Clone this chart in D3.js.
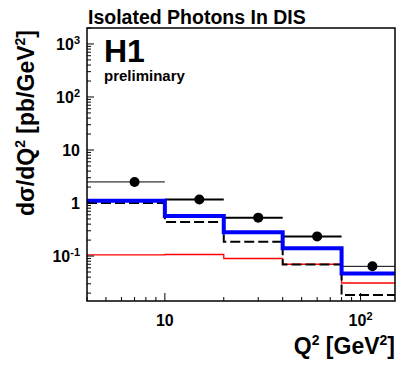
<!DOCTYPE html>
<html>
<head>
<meta charset="utf-8">
<title>Isolated Photons In DIS</title>
<script src="https://d3js.org/d3.v7.min.js"></script>
<style>
  body { margin: 0; background: white; }
  text { font-family: "Liberation Sans", Arial, sans-serif; font-weight: bold; }
</style>
</head>
<body>
<svg id="chart" width="406" height="373"></svg>
<script>
// bin edges in Q^2 [GeV^2]
var binEdges = [4, 10, 20, 40, 80, 150];

// data points (H1 preliminary)
var dataQ2 = [7, 15, 30, 60, 115];
var dataXsec = [2.5, 1.17, 0.53, 0.235, 0.064];

// model predictions per bin
var blueHist = [1.1, 0.57, 0.28, 0.14, 0.047];
var dashHist = [1.0, 0.44, 0.186, 0.069, 0.0184];
var redHist = [0.105, 0.107, 0.09, 0.07, 0.031];

var yTicks = [0.1, 1, 10, 100, 1000];
var yTickLabels = [["10", "-1"], ["1", ""], ["10", ""], ["10", "2"], ["10", "3"]];
var xTicks = [10, 100];
var xTickLabels = [["10", ""], ["10", "2"]];

var svg = d3.select("#chart");
var fLeft = 87, fRight = 395, fTop = 28, fBottom = 301;

var x = d3.scaleLog().domain([4, 150]).range([fLeft, fRight]);
var y = d3.scaleLog().domain([0.0142, 2000]).range([fBottom, fTop]);

// clip to the frame
svg.append("clipPath").attr("id", "frame")
  .append("rect").attr("x", fLeft).attr("y", fTop)
  .attr("width", fRight - fLeft).attr("height", fBottom - fTop);

var plot = svg.append("g").attr("clip-path", "url(#frame)");

// step histogram path
function stepPath(vals) {
  var p = d3.path();
  vals.forEach(function(v, i) {
    var x0 = x(binEdges[i]), x1 = x(binEdges[i + 1]);
    if (i == 0) p.moveTo(x0, y(v)); else p.lineTo(x0, y(v));
    p.lineTo(x1, y(v));
  });
  return p.toString();
}

plot.append("path").attr("d", stepPath(redHist))
  .attr("fill", "none").attr("stroke", "#ff0000").attr("stroke-width", 1.3);

plot.append("path").attr("d", stepPath(dashHist))
  .attr("fill", "none").attr("stroke", "black").attr("stroke-width", 2)
  .attr("stroke-dasharray", "10,4");

// data error bars (horizontal = bin width)
plot.selectAll("line.xerr").data(dataQ2).enter().append("line")
  .attr("class", "xerr")
  .attr("x1", function(d, i) { return x(binEdges[i]); })
  .attr("x2", function(d, i) { return x(binEdges[i + 1]); })
  .attr("y1", function(d, i) { return y(dataXsec[i]); })
  .attr("y2", function(d, i) { return y(dataXsec[i]); })
  .attr("stroke", "black")
  .attr("stroke-width", function(d, i) { return (i == 0 || i == dataQ2.length - 1) ? 1 : 2; });

plot.append("path").attr("d", stepPath(blueHist))
  .attr("fill", "none").attr("stroke", "#0000ff").attr("stroke-width", 4);

plot.selectAll("circle").data(dataQ2).enter().append("circle")
  .attr("cx", function(d) { return x(d); })
  .attr("cy", function(d, i) { return y(dataXsec[i]); })
  .attr("r", 5).attr("fill", "black");

function isDecade(d) {
  return Math.abs(Math.log10(d) - Math.round(Math.log10(d))) < 1e-6;
}

// y axis ticks (inside frame)
var yMinor = [];
for (var e = -2; e <= 3; e++) {
  for (var m = 1; m <= 9; m++) {
    var v = m * Math.pow(10, e);
    if (v >= 0.0142 && v <= 2000) yMinor.push(v);
  }
}
svg.selectAll("line.ytick").data(yMinor).enter().append("line")
  .attr("x1", fLeft).attr("x2", function(d) { return fLeft + (isDecade(d) ? 7 : 4); })
  .attr("y1", function(d) { return y(d); }).attr("y2", function(d) { return y(d); })
  .attr("stroke", "black").attr("stroke-width", 1);

var xMinor = [];
for (var e = 0; e <= 2; e++) {
  for (var m = 1; m <= 9; m++) {
    var v = m * Math.pow(10, e);
    if (v >= 4 && v <= 150) xMinor.push(v);
  }
}
svg.selectAll("line.xtick").data(xMinor).enter().append("line")
  .attr("y1", fBottom).attr("y2", function(d) { return fBottom - (isDecade(d) ? 8 : 4); })
  .attr("x1", function(d) { return x(d); }).attr("x2", function(d) { return x(d); })
  .attr("stroke", "black").attr("stroke-width", 1);

// frame
svg.append("rect").attr("x", fLeft).attr("y", fTop)
  .attr("width", fRight - fLeft).attr("height", fBottom - fTop)
  .attr("fill", "none").attr("stroke", "black").attr("stroke-width", 1.5);

// tick labels
yTicks.forEach(function(t, i) {
  var lab = svg.append("text").attr("x", 80).attr("y", y(t) + 6)
    .attr("text-anchor", "end").style("font-size", "16px");
  lab.append("tspan").text(yTickLabels[i][0]);
  if (yTickLabels[i][1]) lab.append("tspan").attr("dy", -6).style("font-size", "11px").text(yTickLabels[i][1]);
});
xTicks.forEach(function(t, i) {
  var lab = svg.append("text").attr("x", x(t)).attr("y", 326)
    .attr("text-anchor", "middle").style("font-size", "16px");
  lab.append("tspan").text(xTickLabels[i][0]);
  if (xTickLabels[i][1]) lab.append("tspan").attr("dy", -6).style("font-size", "11px").text(xTickLabels[i][1]);
});

// axis titles
var xt = svg.append("text").attr("x", 395).attr("y", 354)
  .attr("text-anchor", "end").style("font-size", "23px");
xt.append("tspan").text("Q");
xt.append("tspan").attr("dy", -9).style("font-size", "14px").text("2");
xt.append("tspan").attr("dy", 9).text(" [GeV");
xt.append("tspan").attr("dy", -9).style("font-size", "14px").text("2");
xt.append("tspan").attr("dy", 9).text("]");

var yt = svg.append("text").attr("transform", "translate(34,30) rotate(-90)")
  .attr("text-anchor", "end").style("font-size", "23px");
yt.append("tspan").text("d\u03c3/dQ");
yt.append("tspan").attr("dy", -9).style("font-size", "14px").text("2");
yt.append("tspan").attr("dy", 9).text(" [pb/GeV");
yt.append("tspan").attr("dy", -9).style("font-size", "14px").text("2");
yt.append("tspan").attr("dy", 9).text("]");

// title and labels
svg.append("text").attr("x", 88).attr("y", 24).style("font-size", "19.5px")
  .text("Isolated Photons In DIS");
svg.append("text").attr("x", 104).attr("y", 62).style("font-size", "32px")
  .text("H1");
svg.append("text").attr("x", 104).attr("y", 81).style("font-size", "15px")
  .text("preliminary");
</script>
</body>
</html>
